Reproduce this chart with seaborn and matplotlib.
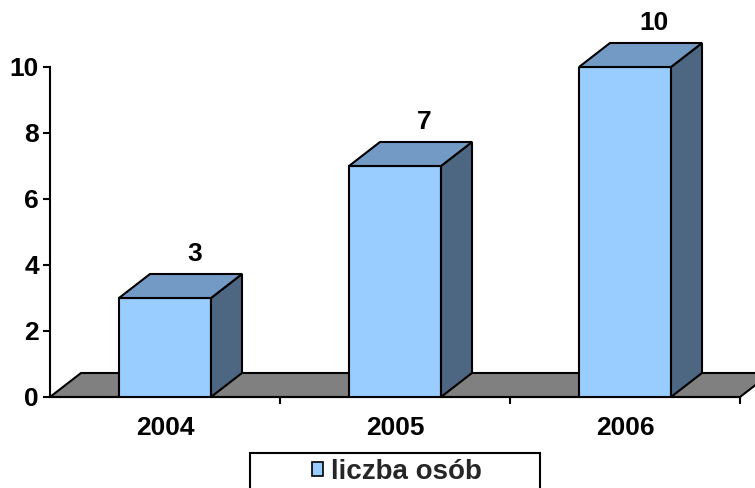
import matplotlib
matplotlib.use('Agg')
import matplotlib.pyplot as plt
import seaborn as sns
import pandas as pd
from matplotlib.patches import Polygon, Rectangle, Patch

# ---- data ----
years = ['2004', '2005', '2006']
counts = [3, 7, 10]
series_label = 'liczba osób'
yticks = [0, 2, 4, 6, 8, 10]

sns.set_theme(style='white')
plt.rcParams['font.family'] = ['Liberation Sans', 'DejaVu Sans']
plt.rcParams['font.weight'] = 'bold'

W, H = 755, 488
FS = 19
fig = plt.figure(figsize=(W / 100, H / 100), dpi=100)
ax = fig.add_axes([50 / W, (H - 397) / H, 690 / W, 330 / H])
ax.patch.set_alpha(0)

FRONT = '#99CCFF'
TOP = '#7399C5'
SIDE = '#4D6682'
FLOOR = '#808080'

df = pd.DataFrame({'rok': years, 'liczba': counts})
sns.barplot(data=df, x='rok', y='liczba', width=0.4, color=FRONT, saturation=1,
            edgecolor='black', linewidth=1.5, ax=ax, zorder=3)
bars = list(ax.patches)
ax.set_xlim(-0.5, 2.5)
ax.set_ylim(0, 10)

dx = 31 / 230
dy = 24 / 33

floor = Polygon([(-0.5, 0), (2.5, 0), (2.5 + dx, dy), (-0.5 + dx, dy)], closed=True,
                facecolor=FLOOR, edgecolor='black', lw=1.5, zorder=1, clip_on=False)
ax.add_patch(floor)

for p, v in zip(bars, counts):
    x0, w, h = p.get_x(), p.get_width(), p.get_height()
    top = Polygon([(x0, h), (x0 + w, h), (x0 + w + dx, h + dy), (x0 + dx, h + dy)],
                  closed=True, facecolor=TOP, edgecolor='black', lw=1.5, zorder=3,
                  clip_on=False, joinstyle='miter')
    side = Polygon([(x0 + w, 0), (x0 + w + dx, dy), (x0 + w + dx, h + dy), (x0 + w, h)],
                   closed=True, facecolor=SIDE, edgecolor='black', lw=1.5, zorder=3,
                   clip_on=False, joinstyle='miter')
    ax.add_patch(side)
    ax.add_patch(top)
    ax.text(x0 + w / 2 + dx * 0.95, h + 1.12, str(v), ha='center', va='baseline',
            fontsize=FS, fontweight='bold', color='black', clip_on=False)

for s in ['top', 'right']:
    ax.spines[s].set_visible(False)
for s in ['left', 'bottom']:
    ax.spines[s].set_color('black')
    ax.spines[s].set_linewidth(1.5)

ax.set_yticks(yticks)
ax.set_yticklabels([str(t) for t in yticks])
ax.tick_params(axis='y', left=True, length=5, width=1.5, color='black',
               direction='out', pad=3, labelsize=FS, labelcolor='black')
ax.set_xticks([0, 1, 2])
ax.set_xticklabels(years)
ax.tick_params(axis='x', which='major', bottom=True, length=0, pad=14,
               labelsize=FS, labelcolor='black')
ax.set_xticks([0.5, 1.5, 2.5], minor=True)
ax.tick_params(axis='x', which='minor', bottom=True, length=5, width=1.5,
               color='black', direction='out')
ax.set_xlabel('')
ax.set_ylabel('')
for lab in ax.get_xticklabels() + ax.get_yticklabels():
    lab.set_fontweight('bold')

# legend frame (cut off by bottom edge)
fig.add_artist(Rectangle((250 / W, -0.05), 290 / W, (H - 453) / H + 0.05,
                         transform=fig.transFigure, facecolor='white',
                         edgecolor='black', lw=1.5, zorder=0))
fig.legend(handles=[Patch(facecolor=FRONT, edgecolor='black', lw=1.2)],
           labels=[series_label], loc='center left',
           bbox_to_anchor=(312 / W, 16 / H), bbox_transform=fig.transFigure,
           frameon=False, prop={'weight': 'bold', 'size': FS + 1},
           handlelength=0.4, handleheight=0.4, handletextpad=0.3,
           borderpad=0, borderaxespad=0)

fig.savefig('out.png', dpi=100)
